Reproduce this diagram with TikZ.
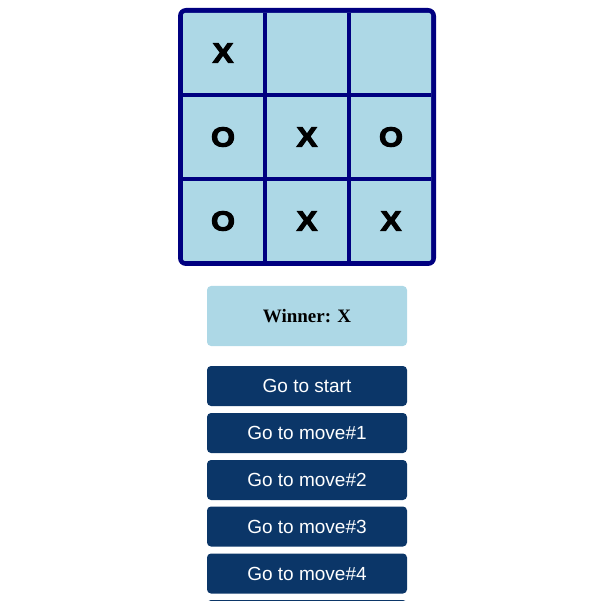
\documentclass[tikz,border=0pt]{standalone}
\usepackage{fontspec}
\setmainfont{Liberation Sans}
\newfontfamily\serifb{Liberation Serif}
\newfontfamily\xofont[BoldFeatures={FakeStretch=1.12,FakeBold=4}]{Liberation Sans}
\definecolor{navyb}{HTML}{000080}
\definecolor{cellblue}{HTML}{ADD8E6}
\definecolor{btnblue}{HTML}{0B3668}
\begin{document}
\begin{tikzpicture}[x=1pt,y=-1pt,
  cell/.style={minimum width=80pt,minimum height=80pt,inner sep=0pt,
    font=\xofont\bfseries\fontsize{27.5}{27.5}\selectfont},
  btn/.style={fill=btnblue,rounded corners=4pt,minimum width=200pt,minimum height=40pt,
    inner sep=0pt,text=white,font=\fontsize{19}{19}\selectfont},
  gridline/.style={fill=navyb},
]
\useasboundingbox (0,0) rectangle (610,601);
\clip (0,0) rectangle (610,601);
% board
\fill[navyb, rounded corners=8pt] (178,8) rectangle (436,266);
\fill[cellblue, rounded corners=2pt] (183,13) rectangle (431,261);
\fill[gridline] (263,13) rectangle (267,261);
\fill[gridline] (347,13) rectangle (351,261);
\fill[gridline] (183,93) rectangle (431,97);
\fill[gridline] (183,177) rectangle (431,181);
% cells
\node[cell] (c11) at (223,53) {X};
\node[cell] (c12) at (307,53) {};
\node[cell] (c13) at (391,53) {};
\node[cell] (c21) at (223,137) {O};
\node[cell] (c22) at (307,137) {X};
\node[cell] (c23) at (391,137) {O};
\node[cell] (c31) at (223,221) {O};
\node[cell] (c32) at (307,221) {X};
\node[cell] (c33) at (391,221) {X};
% status
\node[fill=cellblue, rounded corners=4pt, minimum width=200pt, minimum height=60pt,
  inner sep=0pt, font=\serifb\bfseries\fontsize{19}{19}\selectfont] (winner) at (307,316) {Winner: X};
% buttons
\node[btn] (b0) at (307,386) {Go to start};
\node[btn] (b1) at (307,433) {Go to move\#1};
\node[btn] (b2) at (307,480) {Go to move\#2};
\node[btn] (b3) at (307,526.5) {Go to move\#3};
\node[btn] (b4) at (307,573.5) {Go to move\#4};
\fill[btnblue, rounded corners=4pt] (207,600) rectangle (407,640);
\end{tikzpicture}
\end{document}
